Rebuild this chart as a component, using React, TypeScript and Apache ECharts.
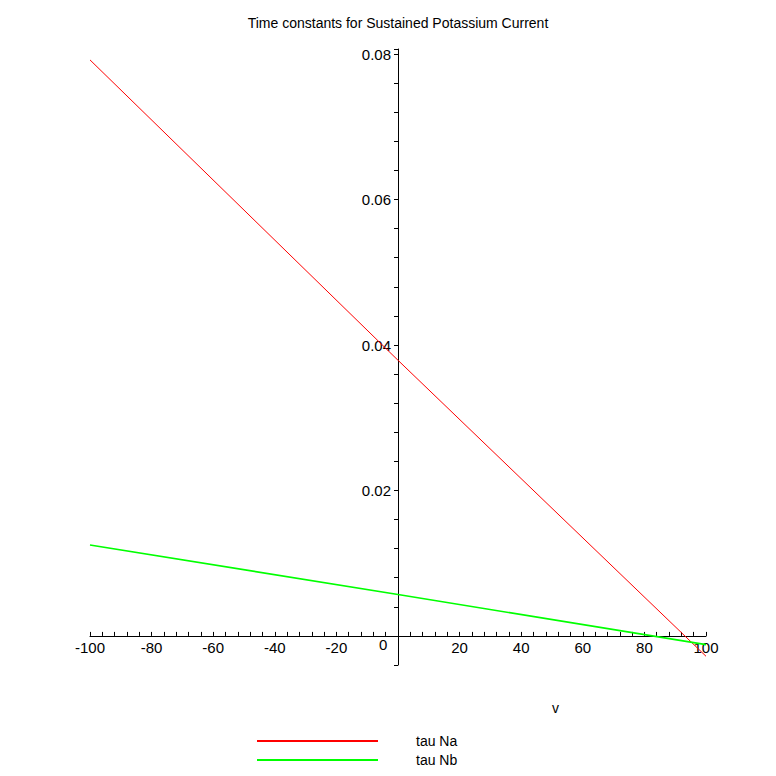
import React, { useEffect, useRef } from "react";
import * as echarts from "echarts";

const chartTitle = "Time constants for Sustained Potassium Current";
const vValues = [-100, 0, 100];
const tauNa = [0.0792, 0.0379, -0.0028];
const tauNb = [0.0125, 0.0057, -0.0012];
const seriesNames = ["tau Na", "tau Nb"];
const seriesColors = ["#ff0000", "#00ff00"];
const xAxisName = "v";
const xTickLabels = [-100, -80, -60, -40, -20, 20, 40, 60, 80, 100];
const yTickLabels = [0.02, 0.04, 0.06, 0.08];
const originLabel = "0";
const xRange = [-100, 100];
const yRange = [-0.004, 0.0807];

const FONT = "Liberation Sans, Arial, sans-serif";

export default function App() {
  const ref = useRef<HTMLDivElement>(null);
  useEffect(() => {
    if (!ref.current) return;
    const chart = echarts.init(ref.current, undefined, { renderer: "svg" });
    const toPairs = (ys: number[]) => vValues.map((v, i) => [v, ys[i]]);
    chart.setOption({
      animation: false,
      backgroundColor: "#ffffff",
      title: {
        text: chartTitle,
        left: 393,
        textAlign: "center",
        top: 11,
        textStyle: { fontSize: 14, fontWeight: "normal", color: "#000", fontFamily: FONT },
      },
      legend: {
        orient: "vertical",
        left: 257,
        top: 733,
        padding: 0,
        icon: "rect",
        itemWidth: 121,
        itemHeight: 2,
        itemGap: 3,
        data: seriesNames,
        textStyle: { fontSize: 14, color: "#000", fontFamily: FONT, lineHeight: 16, padding: [0, 0, 0, 33] },
      },
      grid: { left: 90, right: 70, top: 49, bottom: 111, containLabel: false },
      xAxis: {
        type: "value",
        min: xRange[0],
        max: xRange[1],
        interval: 4,
        position: "bottom",
        splitLine: { show: false },
        axisLine: { onZero: false, lineStyle: { color: "#000", width: 1 } },
        axisTick: { inside: true, length: 4, lineStyle: { color: "#000" } },
        axisLabel: {
          margin: 4,
          fontSize: 15,
          color: "#000",
          fontFamily: FONT,
          formatter: (v: number) =>
            xTickLabels.includes(Math.round(v)) && Math.abs(v - Math.round(v)) < 1e-9 ? String(Math.round(v)) : "",
        },
      },
      yAxis: {
        type: "value",
        min: yRange[0],
        max: yRange[1],
        interval: 0.004,
        position: "left",
        splitLine: { show: false },
        axisLine: { onZero: false, lineStyle: { color: "#000", width: 1 } },
        axisTick: { length: 4, lineStyle: { color: "#000" } },
        axisLabel: {
          margin: 7,
          fontSize: 15,
          color: "#000",
          fontFamily: FONT,
          formatter: (v: number) => {
            const t = yTickLabels.find((y) => Math.abs(y - v) < 1e-9);
            return t !== undefined ? t.toFixed(2) : "";
          },
        },
      },
      series: [
        {
          name: seriesNames[0],
          type: "line",
          data: toPairs(tauNa),
          symbol: "none",
          lineStyle: { color: seriesColors[0], width: 1 },
          itemStyle: { color: seriesColors[0] },
        },
        {
          name: seriesNames[1],
          type: "line",
          data: toPairs(tauNb),
          symbol: "none",
          lineStyle: { color: seriesColors[1], width: 1.6 },
          itemStyle: { color: seriesColors[1] },
        },
      ],
    });
    const origin = chart.convertToPixel({ gridIndex: 0 }, [0, 0]) as number[];
    const corner = chart.convertToPixel({ gridIndex: 0 }, [xRange[0], yRange[0]]) as number[];
    const xEnd = chart.convertToPixel({ gridIndex: 0 }, [50, yRange[0]]) as number[];
    chart.setOption({
      xAxis: { offset: origin[1] - corner[1] },
      yAxis: { offset: corner[0] - origin[0] },
      graphic: [
        {
          type: "text",
          x: origin[0] - 19,
          y: origin[1] + 1,
          style: { text: originLabel, fontSize: 15, fill: "#000", fontFamily: FONT },
        },
        {
          type: "text",
          x: xEnd[0],
          y: xEnd[1] + 36,
          style: { text: xAxisName, fontSize: 14, fill: "#000", fontFamily: FONT },
        },
      ],
    });
    return () => chart.dispose();
  }, []);
  return <div ref={ref} style={{ position: "absolute", left: 0, top: 0, width: 776, height: 776 }} />;
}
